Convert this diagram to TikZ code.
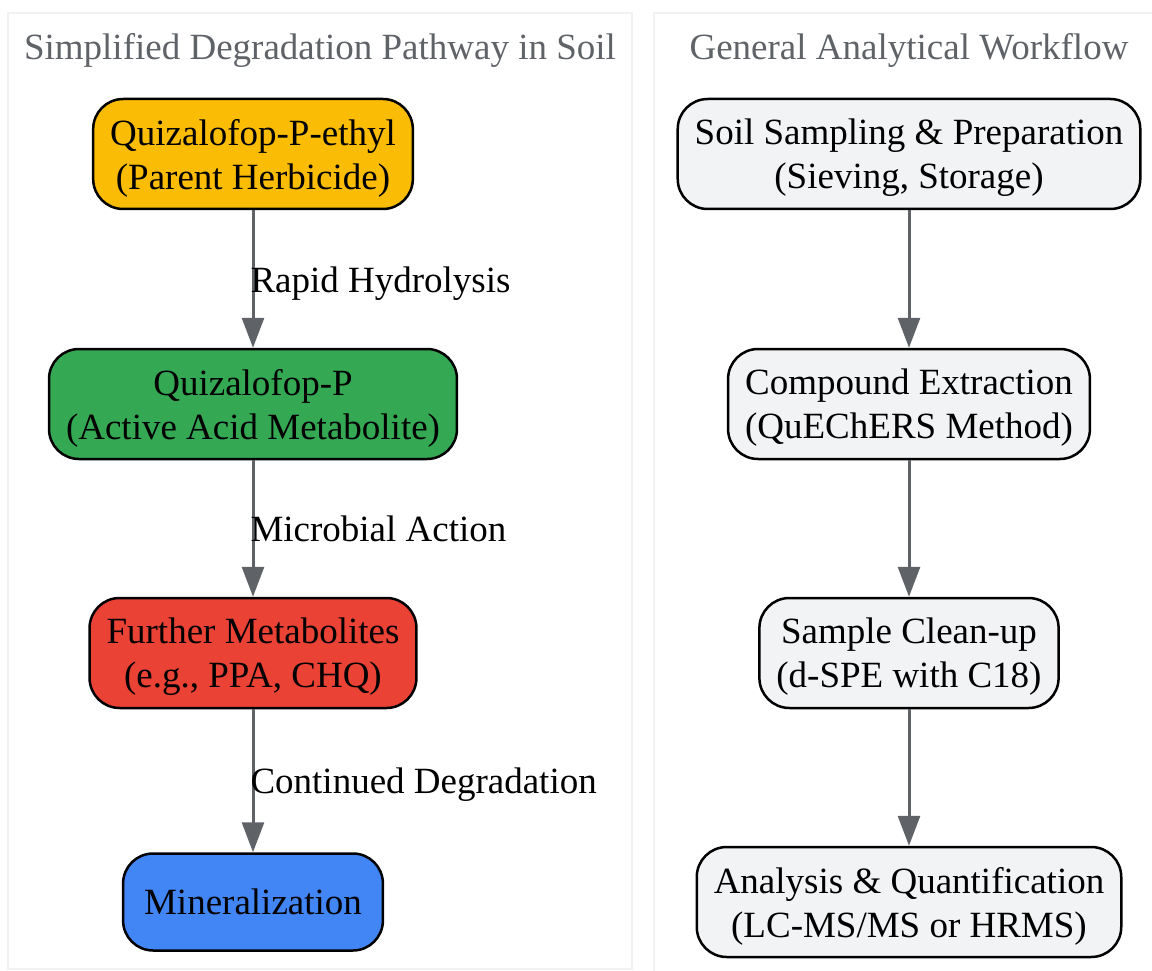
\documentclass[tikz,border=0pt]{standalone}
\usepackage{fontspec}
\setmainfont{Liberation Serif}
\usetikzlibrary{arrows.meta}

\definecolor{qyellow}{HTML}{FBBC05}
\definecolor{qgreen}{HTML}{34A853}
\definecolor{qred}{HTML}{EA4335}
\definecolor{qblue}{HTML}{4285F4}
\definecolor{qlight}{HTML}{F1F3F4}
\definecolor{qgray}{HTML}{5F6368}
\definecolor{qframe}{HTML}{F0F1F2}

\tikzset{
    pbox/.style={draw=black, line width=2.5pt, rounded corners=30pt, align=center,
        inner xsep=17pt, minimum height=110pt, text depth=0pt, font=\fontsize{37}{44}\selectfont},
    flow/.style={draw=qgray, line width=3pt, -{Triangle[length=30pt,width=22pt]}},
    elabel/.style={midway, right, inner sep=0pt, xshift=-4pt, yshift=-4pt, text height=26pt,
        text depth=8pt, font=\fontsize{37}{44}\selectfont},
    ctitle/.style={text=qgray, font=\fontsize{37}{44}\selectfont},
    cluster/.style={draw=qframe, line width=2.5pt}
}

\begin{document}
\begin{tikzpicture}[x=1pt, y=-1pt]
    \useasboundingbox (0, 0) rectangle (1152, 971);

    % clusters
    \draw[cluster] (8, 13) rectangle (632, 969);
    \draw[cluster] (654, 13) rectangle (1175, 990);
    \node[ctitle] (ltitle) at (320, 50) {Simplified Degradation Pathway in Soil};
    \node[ctitle] (rtitle) at (909, 50) {General Analytical Workflow};

    % degradation pathway
    \node[pbox, fill=qyellow] (qpe) at (253, 154) {Quizalofop-P-ethyl\\(Parent Herbicide)};
    \node[pbox, fill=qgreen] (qp) at (253, 404) {Quizalofop-P\\(Active Acid Metabolite)};
    \node[pbox, fill=qred] (metab) at (253, 653) {Further Metabolites\\(e.g., PPA, CHQ)};
    \node[pbox, fill=qblue, minimum height=97pt, inner xsep=21pt] (miner) at (253, 902) {Mineralization};

    \draw[flow] (qpe) -- (qp) node[elabel] {Rapid Hydrolysis};
    \draw[flow] (qp) -- (metab) node[elabel] {Microbial Action};
    \draw[flow] (metab) -- (miner) node[elabel] {Continued Degradation};

    % analytical workflow
    \node[pbox, fill=qlight] (sampling) at (909, 154) {Soil Sampling \& Preparation\\(Sieving, Storage)};
    \node[pbox, fill=qlight] (extract) at (909, 404) {Compound Extraction\\(QuEChERS Method)};
    \node[pbox, fill=qlight] (cleanup) at (909, 653) {Sample Clean-up\\(d-SPE with C18)};
    \node[pbox, fill=qlight] (analysis) at (909, 902) {Analysis \& Quantification\\(LC-MS/MS or HRMS)};

    \draw[flow] (sampling) -- (extract);
    \draw[flow] (extract) -- (cleanup);
    \draw[flow] (cleanup) -- (analysis);
\end{tikzpicture}
\end{document}
